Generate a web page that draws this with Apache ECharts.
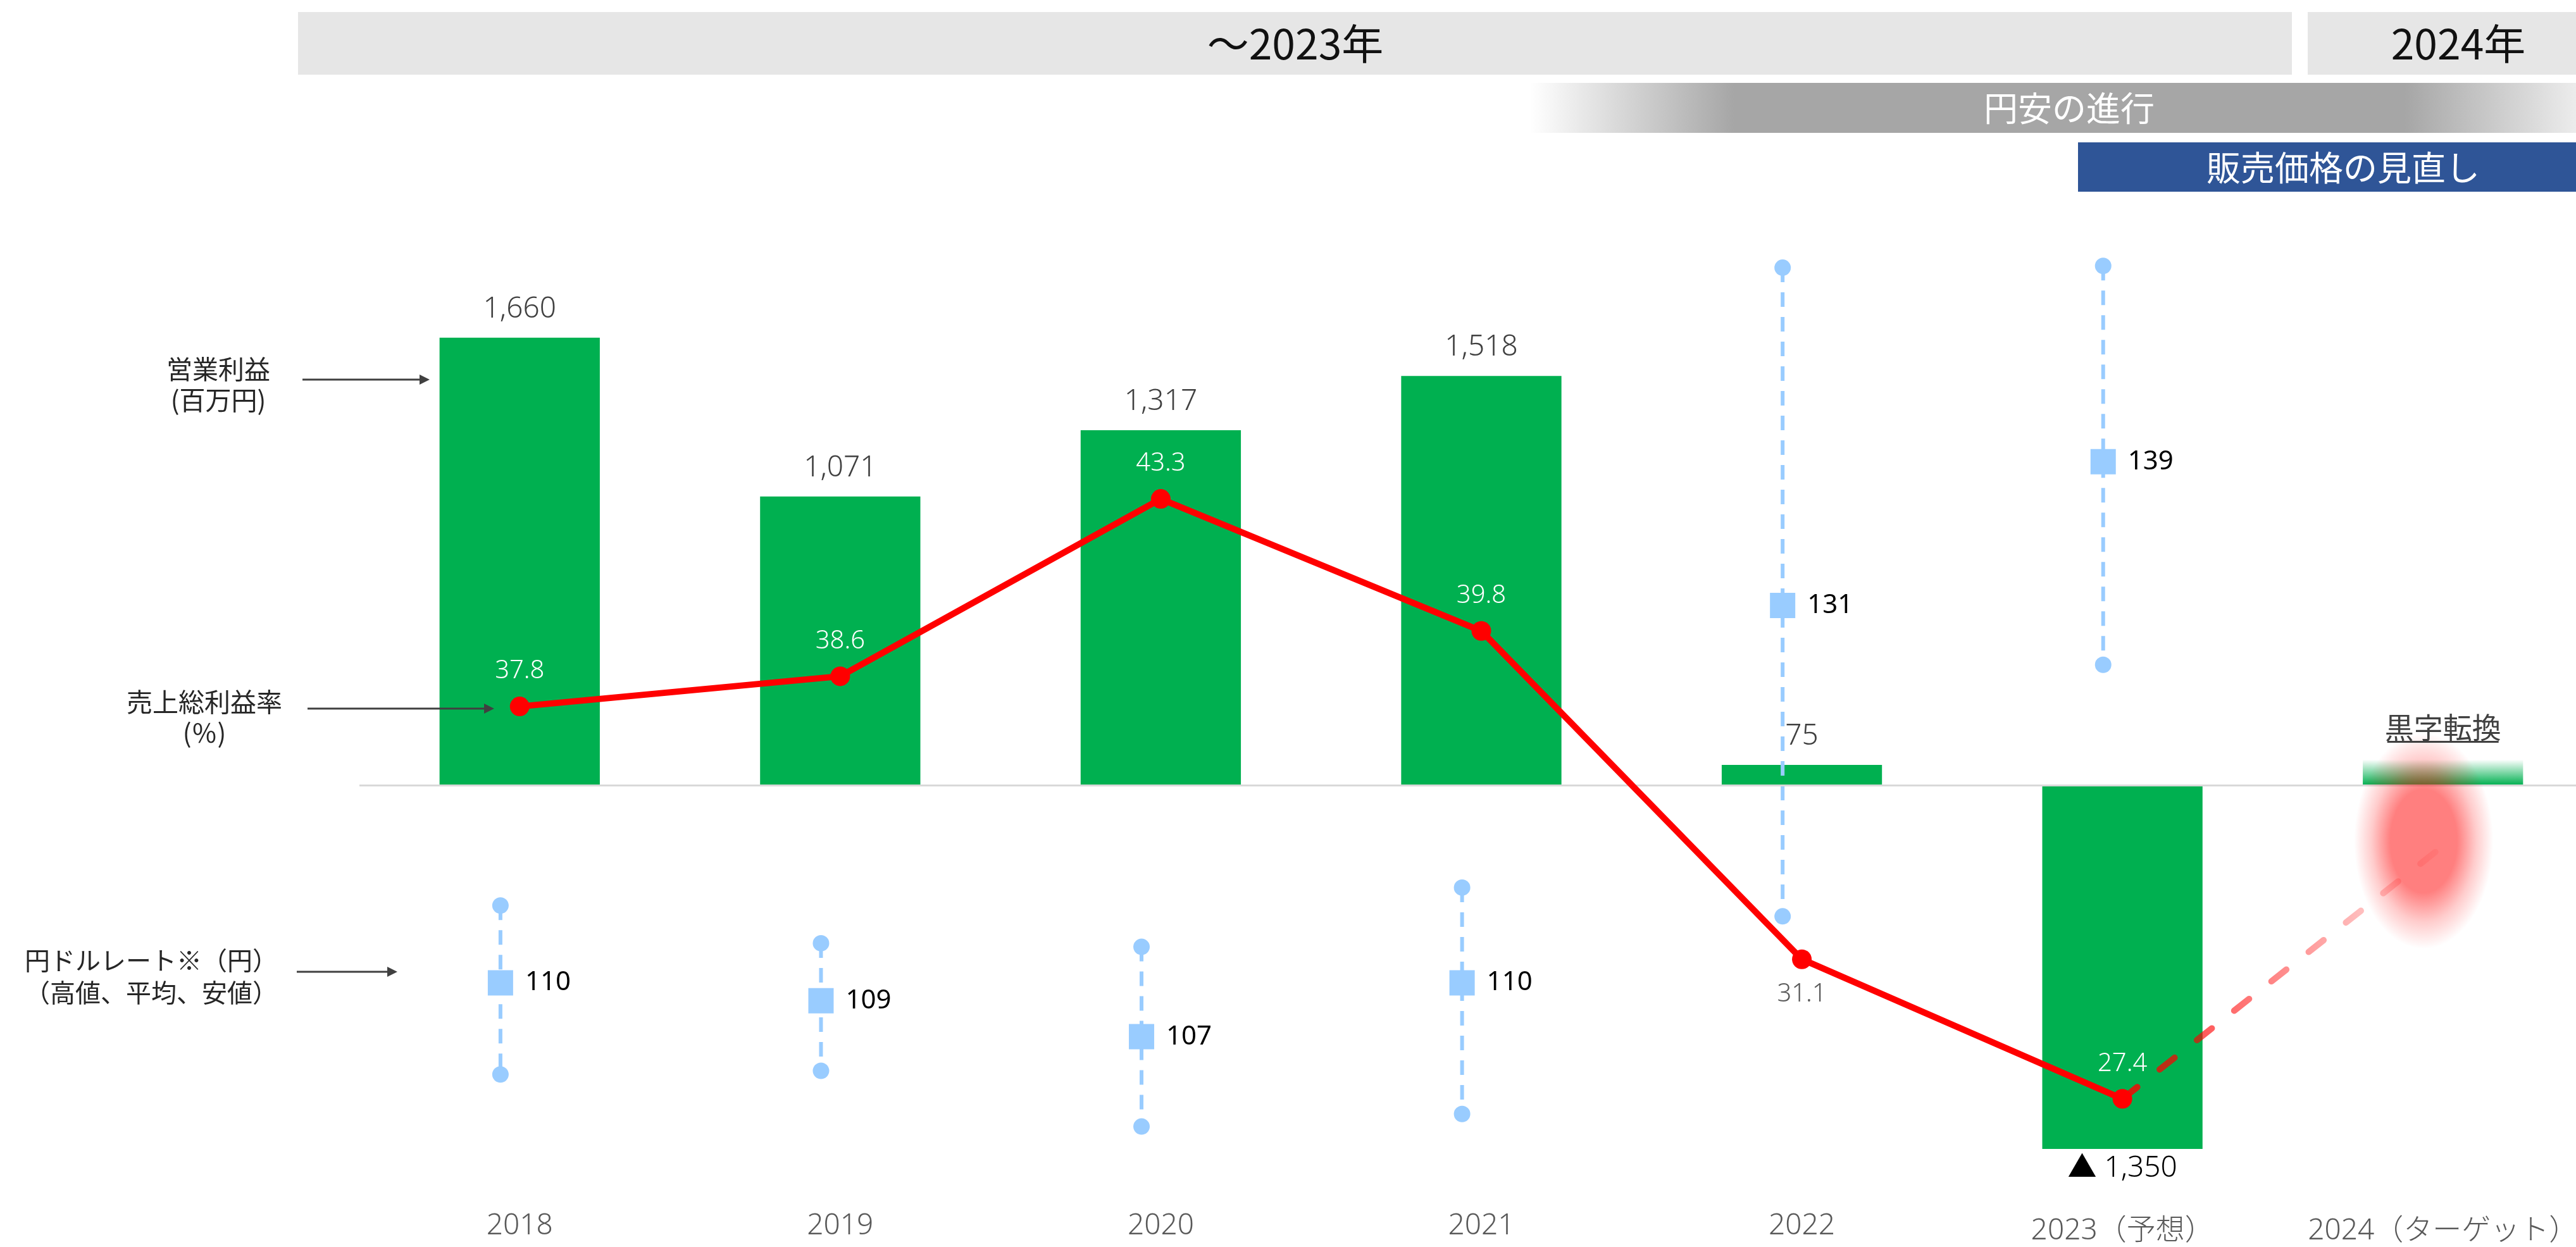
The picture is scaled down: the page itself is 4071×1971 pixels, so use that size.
<!DOCTYPE html>
<html><head><meta charset="utf-8">
<script src="https://cdn.jsdelivr.net/npm/echarts@6/dist/echarts.min.js"></script>
<style>html,body{margin:0;padding:0;background:#fff}#c{width:4071px;height:1971px}</style>
</head><body><div id="c"></div>
<script>
// ---- data ----
const categories = ['2018', '2019', '2020', '2021', '2022', '2023（予想）', '2024（ターゲット）'];
const operatingProfit = [1660, 1071, 1317, 1518, 75, -1350, 95];      // 百万円
const grossMargin = [37.8, 38.6, 43.3, 39.8, 31.1, 27.4, null];       // %
const marginTarget = [null, null, null, null, null, 27.4, 34.1];      // % (dashed outlook)
const rateHigh = [114.3, 112.2, 112.0, 115.3, 149.8, 149.9];           // 円/ドル 高値
const rateAvg  = [110, 109, 107, 110, 131, 139];                       // 平均
const rateLow  = [104.9, 105.1, 102.0, 102.7, 113.7, 127.7];           // 安値
const periodLabels = ['～2023年', '2024年'];
const themeLabels = ['円安の進行', '販売価格の見直し'];
const turnaroundLabel = '黒字転換';
const sideLabels = ['営業利益\n(百万円)', '売上総利益率\n(％)', '円ドルレート※（円）\n（高値、平均、安値）'];

// ---- styling ----
const NUM = "'Noto Sans', 'Noto Sans CJK JP', sans-serif";
const JP = "'Noto Sans CJK JP', 'Noto Sans', sans-serif";
const GREEN = '#00b050', RED = '#ff0000', BLUE = '#99ccff';

const chart = echarts.init(document.getElementById('c'), null, { renderer: 'canvas' });

function arrow(x1, x2, y) {
  return [
    { type: 'line', z: 100, shape: { x1: x1, y1: y, x2: x2 - 12, y2: y }, style: { stroke: '#404040', lineWidth: 3 } },
    { type: 'polygon', z: 100, shape: { points: [[x2 - 16, y - 8], [x2, y], [x2 - 16, y + 8]] }, style: { fill: '#404040' } }
  ];
}

const graphics = [
  { type: 'rect', z: 0, shape: { x: 471, y: 19, width: 3151, height: 99 }, style: { fill: '#e6e6e6' } },
  { type: 'rect', z: 0, shape: { x: 3647, y: 19, width: 424, height: 99 }, style: { fill: '#e6e6e6' } },
  { type: 'text', z: 1, x: 2047, y: 69, style: { text: periodLabels[0], fill: '#111', fontSize: 66, fontFamily: JP, align: 'center', verticalAlign: 'middle' } },
  { type: 'text', z: 1, x: 3885, y: 69, style: { text: periodLabels[1], fill: '#111', fontSize: 66, fontFamily: JP, align: 'center', verticalAlign: 'middle' } },
  { type: 'rect', z: 0, shape: { x: 2418, y: 131, width: 1653, height: 79 },
    style: { fill: new echarts.graphic.LinearGradient(0, 0, 1, 0, [
      { offset: 0, color: 'rgba(166,166,166,0)' }, { offset: 0.195, color: '#a6a6a6' },
      { offset: 0.836, color: '#a6a6a6' }, { offset: 1, color: '#ececec' }]) } },
  { type: 'text', z: 1, x: 3270, y: 171, style: { text: themeLabels[0], fill: '#fff', fontSize: 54, fontFamily: JP, align: 'center', verticalAlign: 'middle' } },
  { type: 'rect', z: 0, shape: { x: 3284, y: 225, width: 787, height: 78 }, style: { fill: '#2f5597' } },
  { type: 'text', z: 1, x: 3703, y: 265, style: { text: themeLabels[1], fill: '#fff', fontSize: 54, fontFamily: JP, align: 'center', verticalAlign: 'middle' } },
  { type: 'text', z: 100, x: 345, y: 608, style: { text: sideLabels[0], fill: '#262626', fontSize: 41, lineHeight: 49, fontFamily: JP, align: 'center', verticalAlign: 'middle' } },
  { type: 'text', z: 100, x: 323, y: 1134, style: { text: sideLabels[1], fill: '#262626', fontSize: 41, lineHeight: 49, fontFamily: JP, align: 'center', verticalAlign: 'middle' } },
  { type: 'text', z: 100, x: 239, y: 1543, style: { text: sideLabels[2], fill: '#262626', fontSize: 40, lineHeight: 51, fontFamily: JP, align: 'center', verticalAlign: 'middle' } }
].concat(arrow(478, 679, 600), arrow(486, 781, 1120), arrow(469, 628, 1536));

const option = {
  animation: false,
  backgroundColor: '#ffffff',
  grid: { left: 568, width: 3546, top: 389, height: 1491, containLabel: false, outerBoundsMode: 'none' },
  xAxis: {
    type: 'category', boundaryGap: true,
    data: categories.map(function (c, i) {
      return i >= 5 ? { value: c, textStyle: { padding: [8, 0, 0, 0] } } : c;
    }),
    axisLine: { show: false }, axisTick: { show: false }, splitLine: { show: false },
    axisLabel: { color: '#595959', fontSize: 46, fontFamily: NUM, fontWeight: 300, margin: 35, interval: 0 }
  },
  yAxis: [
    { type: 'value', min: -1500, max: 2000, show: false },
    { type: 'value', min: 25, max: 50, show: false },
    { type: 'value', min: 98.5, max: 151, show: false }
  ],
  graphic: graphics,
  series: [
    {
      name: '営業利益', type: 'bar', yAxisIndex: 0, barWidth: '50%', z: 2,
      itemStyle: { color: GREEN },
      data: operatingProfit.map(function (v, i) {
        if (i === categories.length - 1) {
          return { value: v, label: { show: false },
            itemStyle: { color: new echarts.graphic.LinearGradient(0, 0, 0, 1, [
              { offset: 0, color: 'rgba(0,176,80,0)' }, { offset: 1, color: 'rgba(0,176,80,1)' }]) } };
        }
        if (v < 0) return { value: v, label: { position: 'bottom', color: '#000', distance: 8 } };
        return v;
      }),
      label: {
        show: true, position: 'top', distance: 22, color: '#404040', fontSize: 46, fontFamily: NUM, fontWeight: 300,
        formatter: function (p) { return (p.value < 0 ? '▲ ' : '') + Math.abs(p.value).toLocaleString('en-US'); }
      },
      markLine: {
        silent: true, symbol: 'none', label: { show: false },
        lineStyle: { color: '#d9d9d9', width: 3, type: 'solid' },
        data: [{ yAxis: 0 }]
      }
    },
    {
      name: '円ドルレート', type: 'custom', yAxisIndex: 2, z: 3, clip: false,
      data: rateAvg.map(function (a, i) { return [i, rateHigh[i], a, rateLow[i]]; }),
      encode: { x: 0, y: [1, 2, 3] },
      renderItem: function (params, api) {
        const bw = api.size([1, 0])[0];
        const c = api.coord([api.value(0), api.value(2)]);
        const x = c[0] - bw * 0.06;
        const yH = api.coord([api.value(0), api.value(1)])[1];
        const yL = api.coord([api.value(0), api.value(3)])[1];
        const yA = c[1];
        return { type: 'group', children: [
          { type: 'line', shape: { x1: x, y1: yH, x2: x, y2: yL }, style: { stroke: BLUE, lineWidth: 6, lineDash: [23, 16] } },
          { type: 'circle', shape: { cx: x, cy: yH, r: 13 }, style: { fill: BLUE } },
          { type: 'circle', shape: { cx: x, cy: yL, r: 13 }, style: { fill: BLUE } },
          { type: 'rect', shape: { x: x - 20, y: yA - 20, width: 40, height: 40 }, style: { fill: BLUE } },
          { type: 'text', x: x + 39, y: yA, style: { text: String(api.value(2)), fill: '#000', fontSize: 42, fontFamily: NUM, align: 'left', verticalAlign: 'middle' } }
        ] };
      }
    },
    {
      name: '売上総利益率', type: 'line', yAxisIndex: 1, z: 5,
      data: grossMargin.map(function (v, i) {
        if (i === 4) return { value: v, label: { position: 'bottom', color: '#595959' } };
        return v;
      }),
      symbol: 'circle', symbolSize: 31,
      lineStyle: { color: RED, width: 10 }, itemStyle: { color: RED },
      label: { show: true, position: 'top', distance: 20, color: '#ffffff', fontSize: 40, fontFamily: NUM, fontWeight: 300 }
    },
    {
      name: '売上総利益率（見通し）', type: 'line', yAxisIndex: 1, z: 4,
      data: marginTarget, showSymbol: false, symbol: 'none',
      lineStyle: { width: 10, type: [30, 45], cap: 'round',
        color: new echarts.graphic.LinearGradient(0, 0, 1, 0, [
          { offset: 0, color: 'rgba(255,0,0,0.85)' }, { offset: 1, color: 'rgba(255,0,0,0.05)' }]) }
    },
    {
      name: '目標', type: 'custom', yAxisIndex: 1, z: 6, silent: true, clip: false,
      data: [[6, marginTarget[6]]],
      renderItem: function (params, api) {
        const c = api.coord([api.value(0), api.value(1)]);
        const bw = api.size([1, 0])[0];
        return { type: 'circle', x: c[0] - bw * 0.06, y: c[1] - 8, scaleX: 1, scaleY: 1.55,
          shape: { cx: 0, cy: 0, r: 110 },
          style: { fill: new echarts.graphic.RadialGradient(0.5, 0.5, 0.5, [
            { offset: 0, color: 'rgba(255,0,0,0.5)' }, { offset: 0.48, color: 'rgba(255,0,0,0.5)' },
            { offset: 0.75, color: 'rgba(255,0,0,0.2)' }, { offset: 1, color: 'rgba(255,0,0,0)' }]) } };
      }
    },
    {
      name: '黒字転換', type: 'custom', yAxisIndex: 0, z: 7, clip: false,
      data: [[6, operatingProfit[6]]],
      renderItem: function (params, api) {
        const c = api.coord([api.value(0), api.value(1)]);
        return { type: 'group', children: [
          { type: 'text', x: c[0], y: c[1] - 28, style: { text: turnaroundLabel, fill: '#404040', fontSize: 46, fontFamily: JP, align: 'center', verticalAlign: 'bottom' } },
          { type: 'line', shape: { x1: c[0] - 88, y1: c[1] - 28, x2: c[0] + 88, y2: c[1] - 28 }, style: { stroke: '#404040', lineWidth: 3 } }
        ] };
      }
    }
  ]
};
chart.setOption(option);
</script></body></html>
